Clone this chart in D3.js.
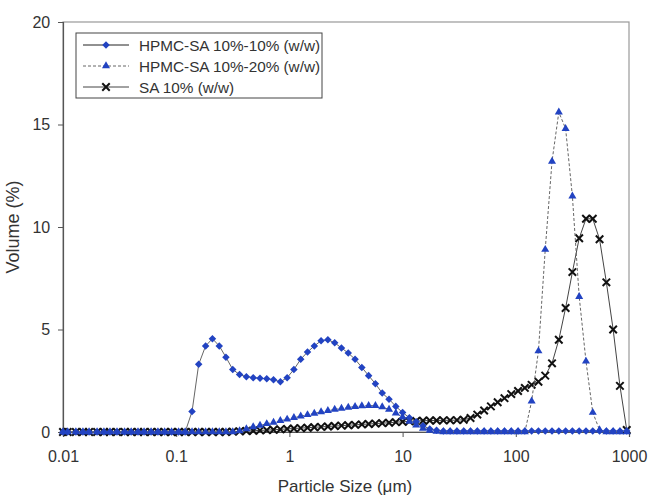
<!DOCTYPE html>
<meta charset="utf-8" />
<script src="https://d3js.org/d3.v7.min.js"></script>
<style>
  body { margin: 0; background: #fff; }
  text { font-family: "Liberation Sans", Arial, sans-serif; fill: #333; }
</style>
<div id="chart"></div>
<script>
  // Size classes (um), log spaced bins
  const sizes = [
    0.010, 0.011, 0.013, 0.015, 0.017, 0.020, 0.023, 0.026, 0.030, 0.035,
    0.040, 0.046, 0.052, 0.060, 0.069, 0.079, 0.091, 0.105, 0.120, 0.138,
    0.158, 0.182, 0.209, 0.240, 0.275, 0.316, 0.363, 0.417, 0.479, 0.550,
    0.631, 0.724, 0.832, 0.955, 1.096, 1.259, 1.445, 1.660, 1.905, 2.188,
    2.512, 2.884, 3.311, 3.802, 4.365, 5.012, 5.754, 6.607, 7.586, 8.710,
    10.00, 11.48, 13.18, 15.14, 17.38, 19.95, 22.91, 26.30, 30.20, 34.67,
    39.81, 45.71, 52.48, 60.26, 69.18, 79.43, 91.20, 104.7, 120.2, 138.0,
    158.5, 182.0, 208.9, 239.9, 275.4, 316.2, 363.1, 416.9, 478.6, 549.5,
    631.0, 724.4, 831.8, 955.0
  ];

  // HPMC-SA 10%-10% (w/w)
  const hpmc1010 = [
    0, 0, 0, 0, 0, 0, 0, 0, 0, 0,
    0, 0, 0, 0, 0, 0, 0, 0, 0, 1.0,
    3.3, 4.2, 4.55, 4.2, 3.65, 3.05, 2.8, 2.7, 2.65, 2.62,
    2.6, 2.55, 2.45, 2.65, 3.05, 3.55, 3.9, 4.2, 4.45, 4.5,
    4.35, 4.1, 3.85, 3.55, 3.15, 2.75, 2.35, 1.9, 1.6, 1.25,
    0.95, 0.7, 0.5, 0.3, 0.15, 0.08, 0.05, 0.05, 0.05, 0.05,
    0.05, 0.05, 0.05, 0.05, 0.05, 0.05, 0.05, 0.05, 0.05, 0.05,
    0.05, 0.05, 0.05, 0.05, 0.05, 0.05, 0.05, 0.05, 0.05, 0.05,
    0.05, 0.05, 0.05, 0.05
  ];

  // HPMC-SA 10%-20% (w/w)
  const hpmc1020 = [
    0, 0, 0, 0, 0, 0, 0, 0, 0, 0,
    0, 0, 0, 0, 0, 0, 0, 0, 0, 0,
    0, 0, 0, 0, 0, 0, 0.05, 0.15, 0.25, 0.32,
    0.4, 0.47, 0.55, 0.62, 0.7, 0.77, 0.84, 0.91, 0.98, 1.04,
    1.1, 1.15, 1.2, 1.24, 1.27, 1.29, 1.28, 1.22, 1.1, 0.92,
    0.72, 0.52, 0.33, 0.18, 0.08, 0.03, 0, 0, 0, 0,
    0, 0, 0, 0, 0, 0, 0, 0, 0, 1.5,
    3.95, 8.9, 13.2, 15.6, 14.8, 11.5, 6.6, 3.45, 0.95, 0.1,
    0, 0, 0, 0
  ];

  // SA 10% (w/w)
  const sa10 = [
    0, 0, 0, 0, 0, 0, 0, 0, 0, 0,
    0, 0, 0, 0, 0, 0, 0, 0, 0, 0,
    0, 0, 0, 0, 0, 0.02, 0.03, 0.05, 0.06, 0.08,
    0.09, 0.11, 0.13, 0.15, 0.17, 0.19, 0.21, 0.23, 0.25, 0.27,
    0.29, 0.31, 0.33, 0.35, 0.37, 0.39, 0.41, 0.43, 0.45, 0.48,
    0.5, 0.52, 0.54, 0.55, 0.56, 0.56, 0.57, 0.57, 0.58, 0.6,
    0.68, 0.85, 1.05, 1.25, 1.45, 1.65, 1.85, 2.0, 2.15, 2.3,
    2.45, 2.75, 3.35, 4.5, 6.05, 7.8, 9.45, 10.4, 10.4, 9.4,
    7.3, 5.0, 2.25, 0.1
  ];

  const xTicks = [0.01, 0.1, 1, 10, 100, 1000];
  const xTickLabels = ["0.01", "0.1", "1", "10", "100", "1000"];
  const yTicks = [0, 5, 10, 15, 20];
  const seriesNames = ["HPMC-SA 10%-10% (w/w)", "HPMC-SA 10%-20% (w/w)", "SA 10% (w/w)"];

  const W = 653, H = 495;
  const plot = { left: 63, right: 629, top: 22, bottom: 432 };
  const blue = "#2243c2";

  const svg = d3.select("#chart").append("svg")
    .attr("width", W).attr("height", H);

  const x = d3.scaleLog().domain([0.01, 1000]).range([plot.left, plot.right]);
  const y = d3.scaleLinear().domain([0, 20]).range([plot.bottom, plot.top]);

  // frame
  svg.append("rect")
    .attr("x", plot.left).attr("y", plot.top)
    .attr("width", plot.right - plot.left).attr("height", plot.bottom - plot.top)
    .attr("fill", "none").attr("stroke", "#999").attr("stroke-width", 1.2);

  // axes
  const xAxis = svg.append("g")
    .attr("transform", `translate(0,${plot.bottom})`)
    .call(d3.axisBottom(x).tickValues(xTicks).tickSize(5)
      .tickFormat((d, i) => xTickLabels[i]));
  const yAxis = svg.append("g")
    .attr("transform", `translate(${plot.left},0)`)
    .call(d3.axisLeft(y).tickValues(yTicks).tickSize(5));

  [xAxis, yAxis].forEach(function (g) {
    g.select(".domain").attr("stroke", "#555").attr("stroke-width", 1.2);
    g.selectAll(".tick line").attr("stroke", "#555");
    g.selectAll(".tick text").style("font-size", "16px").attr("fill", "#333");
  });
  xAxis.selectAll(".tick text").attr("dy", "1.35em");
  yAxis.selectAll(".tick text").attr("dx", "-0.3em");

  // axis titles
  svg.append("text")
    .attr("x", 345).attr("y", 492)
    .attr("text-anchor", "middle")
    .style("font-size", "17px")
    .text("Particle Size (\u03bcm)");

  svg.append("text")
    .attr("transform", "rotate(-90)")
    .attr("x", -227).attr("y", 19)
    .attr("text-anchor", "middle")
    .style("font-size", "18px")
    .text("Volume (%)");

  const line = d3.line()
    .x((d) => x(d[0]))
    .y((d) => y(d[1]));

  const pts = (vals) => sizes.map((s, i) => [s, vals[i]]);

  const diamond = d3.symbol().type(d3.symbolDiamond2).size(36);
  const triangle = d3.symbol().type(d3.symbolTriangle).size(28);
  const cross = d3.symbol().type(d3.symbolTimes).size(38);

  // SA 10%
  svg.append("path")
    .datum(pts(sa10))
    .attr("fill", "none").attr("stroke", "#444").attr("stroke-width", 1)
    .attr("d", line);
  svg.append("g").selectAll("path")
    .data(pts(sa10))
    .join("path")
    .attr("transform", (d) => `translate(${x(d[0])},${y(d[1])})`)
    .attr("d", cross)
    .attr("fill", "none").attr("stroke", "#111").attr("stroke-width", 2);

  // HPMC-SA 10%-20%
  svg.append("path")
    .datum(pts(hpmc1020))
    .attr("fill", "none").attr("stroke", "#666").attr("stroke-width", 1)
    .attr("stroke-dasharray", "3,2")
    .attr("d", line);
  svg.append("g").selectAll("path")
    .data(pts(hpmc1020))
    .join("path")
    .attr("transform", (d) => `translate(${x(d[0])},${y(d[1])})`)
    .attr("d", triangle)
    .attr("fill", blue);

  // HPMC-SA 10%-10%
  svg.append("path")
    .datum(pts(hpmc1010))
    .attr("fill", "none").attr("stroke", "#666").attr("stroke-width", 1)
    .attr("d", line);
  svg.append("g").selectAll("path")
    .data(pts(hpmc1010))
    .join("path")
    .attr("transform", (d) => `translate(${x(d[0])},${y(d[1])})`)
    .attr("d", diamond)
    .attr("fill", blue);

  // legend
  const legend = svg.append("g").attr("transform", "translate(76,33)");
  legend.append("rect")
    .attr("width", 246).attr("height", 65)
    .attr("fill", "#fff").attr("stroke", "#444").attr("stroke-width", 1);

  const legendItems = legend.selectAll("g.item")
    .data(seriesNames)
    .join("g")
    .attr("class", "item")
    .attr("transform", (d, i) => `translate(0,${12 + i * 21})`);

  legendItems.append("line")
    .attr("x1", 7).attr("x2", 53)
    .attr("stroke", (d, i) => (i === 2 ? "#444" : i === 1 ? "#666" : "#222"))
    .attr("stroke-width", 1)
    .attr("stroke-dasharray", (d, i) => (i === 1 ? "3,2" : null));

  legendItems.append("path")
    .attr("transform", "translate(30,0)")
    .attr("d", (d, i) => (i === 0 ? diamond() : i === 1 ? triangle() : cross()))
    .attr("fill", (d, i) => (i === 2 ? "none" : blue))
    .attr("stroke", (d, i) => (i === 2 ? "#111" : "none"))
    .attr("stroke-width", 2);

  legendItems.append("text")
    .attr("x", 63).attr("y", 6)
    .style("font-size", "15.3px")
    .text((d) => d);
</script>
